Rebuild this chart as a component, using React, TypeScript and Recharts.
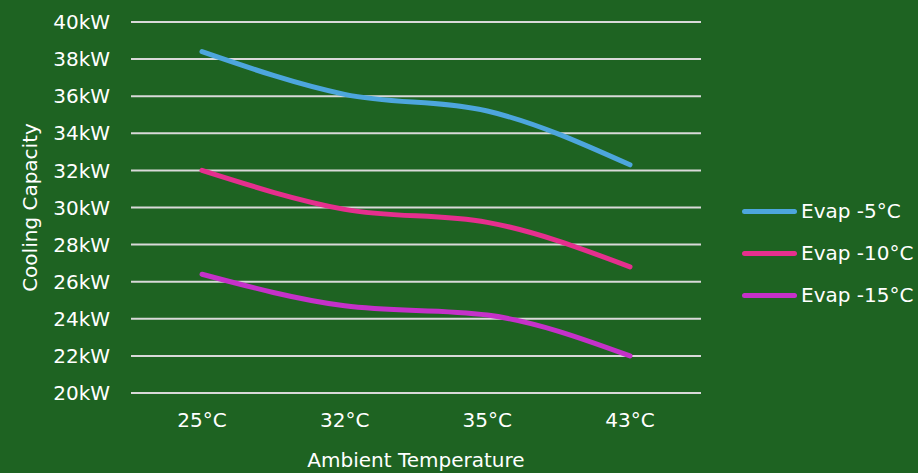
import { CartesianGrid, Label, Line, LineChart, XAxis, YAxis } from "recharts"

const categories = ["25°C", "32°C", "35°C", "43°C"]
const evap5 = [38.4, 36.1, 35.2, 32.3]
const evap10 = [32.0, 29.9, 29.2, 26.8]
const evap15 = [26.4, 24.7, 24.2, 22.0]
const yTicks = [20, 22, 24, 26, 28, 30, 32, 34, 36, 38, 40]

const series = [
  { key: "evap5", name: "Evap -5°C", color: "#4da6dd", values: evap5 },
  { key: "evap10", name: "Evap -10°C", color: "#e52f8e", values: evap10 },
  { key: "evap15", name: "Evap -15°C", color: "#c531c9", values: evap15 },
]

const data = categories.map((c, i) => {
  const row: Record<string, string | number> = { temp: c }
  series.forEach((s) => (row[s.key] = s.values[i]))
  return row
})

const FONT = "'DejaVu Sans', sans-serif"
const BG = "#1e6322"

export default function App() {
  return (
    <div style={{ position: "absolute", left: 0, top: 0, width: 918, height: 473, background: BG, fontFamily: FONT }}>
      <LineChart width={918} height={473} data={data} margin={{ top: 22, right: 217, left: 0, bottom: 0 }}>
        <CartesianGrid vertical={false} stroke="#d9d9d9" strokeWidth={2} />
        <XAxis
          dataKey="temp"
          height={80}
          axisLine={false}
          tickLine={false}
          tickSize={0}
          tickMargin={20}
          padding={{ left: 71, right: 71 }}
          tick={{ fill: "#ffffff", fontSize: 20, fontFamily: FONT }}
        >
          <Label value="Ambient Temperature" position="insideBottom" offset={6} fill="#ffffff" fontSize={20} fontFamily={FONT} />
        </XAxis>
        <YAxis
          width={131}
          domain={[20, 40]}
          ticks={yTicks}
          axisLine={false}
          tickLine={false}
          tickSize={0}
          tickMargin={21}
          tickFormatter={(v) => `${v}kW`}
          tick={{ fill: "#ffffff", fontSize: 20, fontFamily: FONT }}
        >
          <Label
            content={({ viewBox }: any) => {
              const cx = 30
              const cy = viewBox.y + viewBox.height / 2
              return (
                <text x={cx} y={cy} fill="#ffffff" fontSize={20} fontFamily={FONT} textAnchor="middle" dominantBaseline="central" transform={`rotate(-90 ${cx} ${cy})`}>
                  Cooling Capacity
                </text>
              )
            }}
          />
        </YAxis>
        {series.map((s) => (
          <Line
            key={s.key}
            type="monotone"
            dataKey={s.key}
            name={s.name}
            stroke={s.color}
            strokeWidth={5}
            strokeLinecap="round"
            dot={false}
            activeDot={false}
            isAnimationActive={false}
          />
        ))}
      </LineChart>

      <div style={{ position: "absolute", left: 742, top: 190 }}>
        {series.map((s) => (
          <div key={s.key} style={{ display: "flex", alignItems: "center", height: 42, color: "#ffffff", fontSize: 20 }}>
            <span style={{ display: "inline-block", width: 55, height: 5, borderRadius: 3, background: s.color, marginRight: 4 }} />
            <span>{s.name}</span>
          </div>
        ))}
      </div>
    </div>
  )
}
